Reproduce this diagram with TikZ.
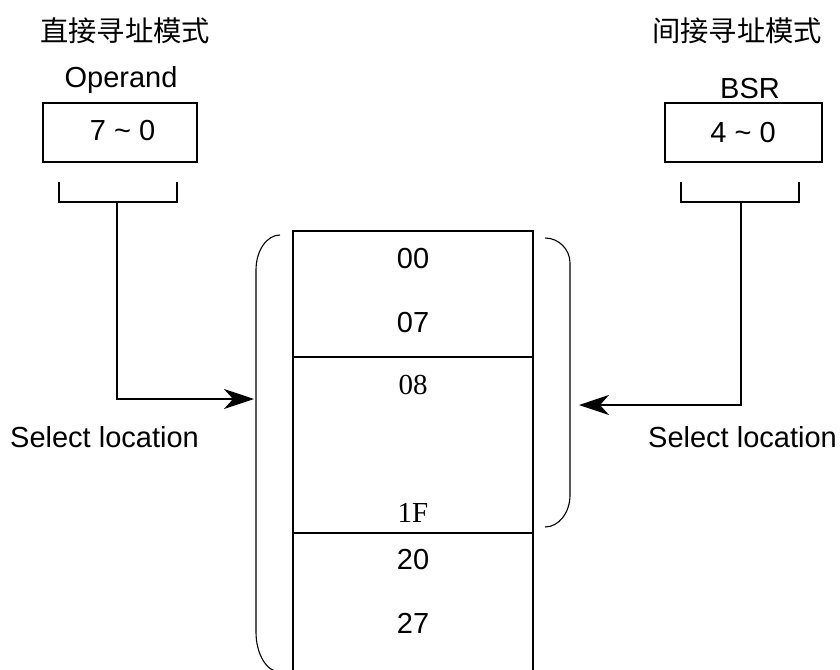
\documentclass[tikz,border=0pt]{standalone}
\usepackage{fontspec}
\setmainfont{Liberation Sans}
\newfontfamily\cjk{Noto Sans CJK SC}
\newfontfamily\timesfont{Liberation Serif}
\usetikzlibrary{arrows.meta}
\tikzset{
  lbl/.style={inner sep=0pt, font=\fontsize{29}{34}\selectfont},
  serifnum/.style={inner sep=0pt, font=\timesfont\fontsize{29}{34}\selectfont},
  title/.style={inner sep=0pt, font=\cjk\fontsize{28.3}{34}\selectfont},
  regbox/.style={draw, line width=1.9pt, outer sep=0pt, inner sep=0pt},
  memcell/.style={draw, line width=2.2pt, outer sep=0pt, inner sep=0pt, minimum width=240pt, anchor=north west},
  brk/.style={line width=1.8pt},
  paren/.style={line width=1.1pt},
  link/.style={line width=2pt, -{Stealth[length=30pt,width=20pt,inset=9pt]}},
}
\begin{document}
\begin{tikzpicture}[x=1pt,y=-1pt]
\useasboundingbox (0,0) rectangle (840,669);
\clip (0,0) rectangle (840,669);

% mode titles
\node[title] (tdir) at (125,31) {直接寻址模式};
\node[title] (tind) at (737,31) {间接寻址模式};

% direct mode: operand field
\node[lbl, anchor=base] (oplbl) at (121,88) {Operand};
\node[regbox, minimum width=154pt, minimum height=59pt] (opbox) at (120,132.5) {};
\node[lbl, anchor=base] (optxt) at (122.5,140) {7 \textasciitilde\ 0};
\draw[brk] (59,182) |- (177,202) -- (177,182);
\coordinate (lsrc) at (117,202);

% indirect mode: BSR field
\node[lbl, anchor=base] (bsrlbl) at (750,98) {BSR};
\node[regbox, minimum width=157pt, minimum height=59pt] (bsrbox) at (743.5,132.5) {};
\node[lbl, anchor=base] (bsrtxt) at (743,142) {4 \textasciitilde\ 0};
\draw[brk] (681,182) |- (799,202) -- (799,182);
\coordinate (rsrc) at (741,202);

% memory blocks
\node[memcell, minimum height=126pt] (m1) at (293,231) {};
\node[memcell, minimum height=176pt] (m2) at (293,357) {};
\node[memcell, minimum height=160pt] (m3) at (293,533) {};

\node[lbl, anchor=base] (a00) at (413,268) {00};
\node[lbl, anchor=base] (a07) at (413,332) {07};
\node[serifnum, anchor=base] (a08) at (413,394) {08};
\node[serifnum, anchor=base] (a1F) at (413,522) {1F};
\node[lbl, anchor=base] (a20) at (413,569) {20};
\node[lbl, anchor=base] (a27) at (413,633) {27};

% reach of each mode
\draw[paren] (280,235) .. controls (266.7,235) and (256,250.7) .. (256,270)
  -- (256,632) .. controls (256,654.1) and (266.7,672) .. (280,672);
\draw[paren] (545,238) .. controls (558.8,238) and (570,249.4) .. (570,263)
  -- (570,495) .. controls (570,512.7) and (558.8,527) .. (545,527);

% selection paths
\coordinate (ltip) at (254,399);
\coordinate (rtip) at (579,405);
\draw[link] (lsrc) |- (ltip);
\draw[link] (rsrc) |- (rtip);

\node[lbl, anchor=base west] (lsel) at (10,447) {Select location};
\node[lbl, anchor=base west] (rsel) at (648,447) {Select location};
\end{tikzpicture}
\end{document}
